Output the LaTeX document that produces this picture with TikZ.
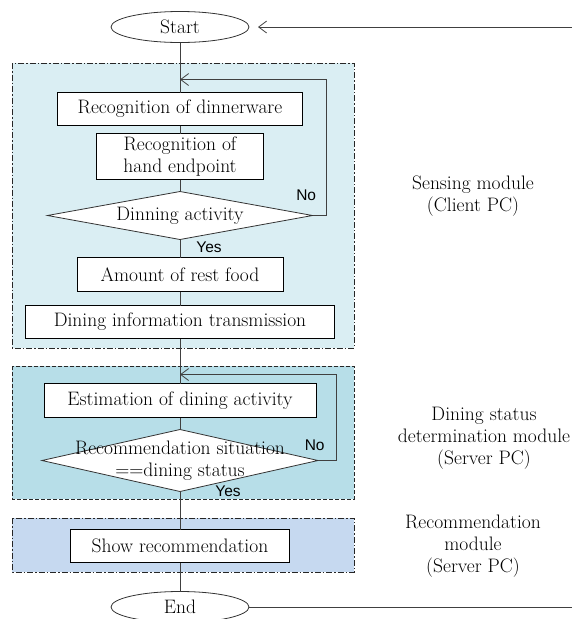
\documentclass[tikz,border=0pt]{standalone}
\usepackage{fontspec}
\newfontfamily\branchfont{Liberation Sans}
\usetikzlibrary{arrows.meta,positioning,shapes.geometric}
\definecolor{SenseBlue}{RGB}{218,238,243}
\definecolor{StatusBlue}{RGB}{183,222,232}
\definecolor{RecBlue}{RGB}{198,217,240}
\definecolor{LineGray}{RGB}{64,64,64}
\tikzset{
  flowbox/.style={draw=black,fill=white,line width=0.8pt,inner sep=2pt,
    outer sep=0pt,minimum height=33pt,align=center},
  terminator/.style={draw=black!80,fill=white,ellipse,line width=0.8pt,
    inner sep=0pt,outer sep=0pt,minimum width=138pt,minimum height=31pt},
  decision/.style={draw=black!80,fill=white,diamond,aspect=5,
    line width=0.8pt,inner sep=0pt,outer sep=0pt},
  flowline/.style={draw=LineGray,line width=0.8pt},
  flowarrow/.style={flowline,-{Straight Barb[length=8pt,width=12pt]}},
  branch/.style={font=\branchfont\fontsize{15.5}{17}\selectfont,inner sep=0pt},
  module/.style={line width=0.8pt,draw=black!85},
  sensemod/.style={module,fill=SenseBlue,dash pattern=on 6pt off 2pt on 1.5pt off 2pt},
  statusmod/.style={module,fill=StatusBlue,dash pattern=on 4pt off 2pt},
  recmod/.style={module,fill=RecBlue,dash pattern=on 6pt off 2pt on 1.5pt off 2pt},
  modlabel/.style={align=center},
}
\begin{document}
\begin{tikzpicture}[x=1pt,y=-1pt,font=\fontsize{19.5}{22}\selectfont]
  \useasboundingbox (0,0) rectangle (572,619);
  % module frames
  \draw[sensemod] (12,63) rectangle (354,348);
  \draw[statusmod] (12,366) rectangle (354,499);
  \draw[recmod] (12,518) rectangle (354,572);
  \node[modlabel] (senselbl) at (473,196) {Sensing module\\(Client PC)};
  \node[modlabel] (statuslbl) at (484,438) {Dining status\\determination module\\(Server PC)};
  \node[modlabel] (reclbl) at (473,546) {Recommendation\\module\\(Server PC)};
  % flow
  \node[terminator] (start) at (180,27) {Start};
  \node[flowbox,minimum width=245pt,below=50pt of start] (recdish) {Recognition of dinnerware};
  \node[flowbox,minimum width=167pt,minimum height=46pt,below=8pt of recdish] (rechand) {Recognition of\\hand endpoint};
  \node[decision,minimum width=265pt,minimum height=48pt,below=12pt of rechand] (activity) {Dinning activity};
  \node[flowbox,minimum width=206pt,minimum height=34pt,below=18pt of activity] (restfood) {Amount of rest food};
  \node[flowbox,minimum width=309pt,below=14pt of restfood] (transmit) {Dining information transmission};
  \node[flowbox,minimum width=272pt,minimum height=34pt,below=45pt of transmit] (estimate) {Estimation of dining activity};
  \node[decision,minimum width=276pt,minimum height=62pt,below=12pt of estimate] (status) {};
  \node[align=center] (statustxt) at (status) {Recommendation situation\\==dining status};
  \node[flowbox,minimum width=219pt,below=38pt of status] (showrec) {Show recommendation};
  \node[terminator,below=29pt of showrec] (stop) {End};
  \draw[flowline] (start) -- (recdish);
  \draw[flowline] (recdish) -- (rechand);
  \draw[flowline] (rechand) -- (activity);
  \draw[flowline] (activity) -- node[branch,pos=0,anchor=north west,xshift=16pt,yshift=-2pt] {Yes} (restfood);
  \draw[flowline] (restfood) -- (transmit);
  \draw[flowline] (transmit) -- (estimate);
  \draw[flowline] (estimate) -- (status);
  \draw[flowline] (status) -- node[branch,pos=0,anchor=north west,xshift=35pt,yshift=6pt] {Yes} (showrec);
  \draw[flowline] (showrec) -- (stop);
  % loops back
  \coordinate[above=13pt of recdish.north] (loopin1);
  \coordinate[above=9pt of estimate.north] (loopin2);
  \draw[flowarrow] (activity.east) -- ++(14,0)
    node[branch,anchor=south east,xshift=-10pt,yshift=14pt] {No} |- (loopin1);
  \draw[flowarrow] (status.east) -- ++(18,0)
    node[branch,anchor=south east,xshift=-11pt,yshift=9pt] {No} |- (loopin2);
  % return path off the right edge
  \coordinate (retin) at (580,27);
  \coordinate (retout) at (580,607);
  \draw[flowarrow,shorten >=9pt] (retin) -- (start.east);
  \draw[flowline] (stop.east) -- (stop.east -| retout);
\end{tikzpicture}
\end{document}
